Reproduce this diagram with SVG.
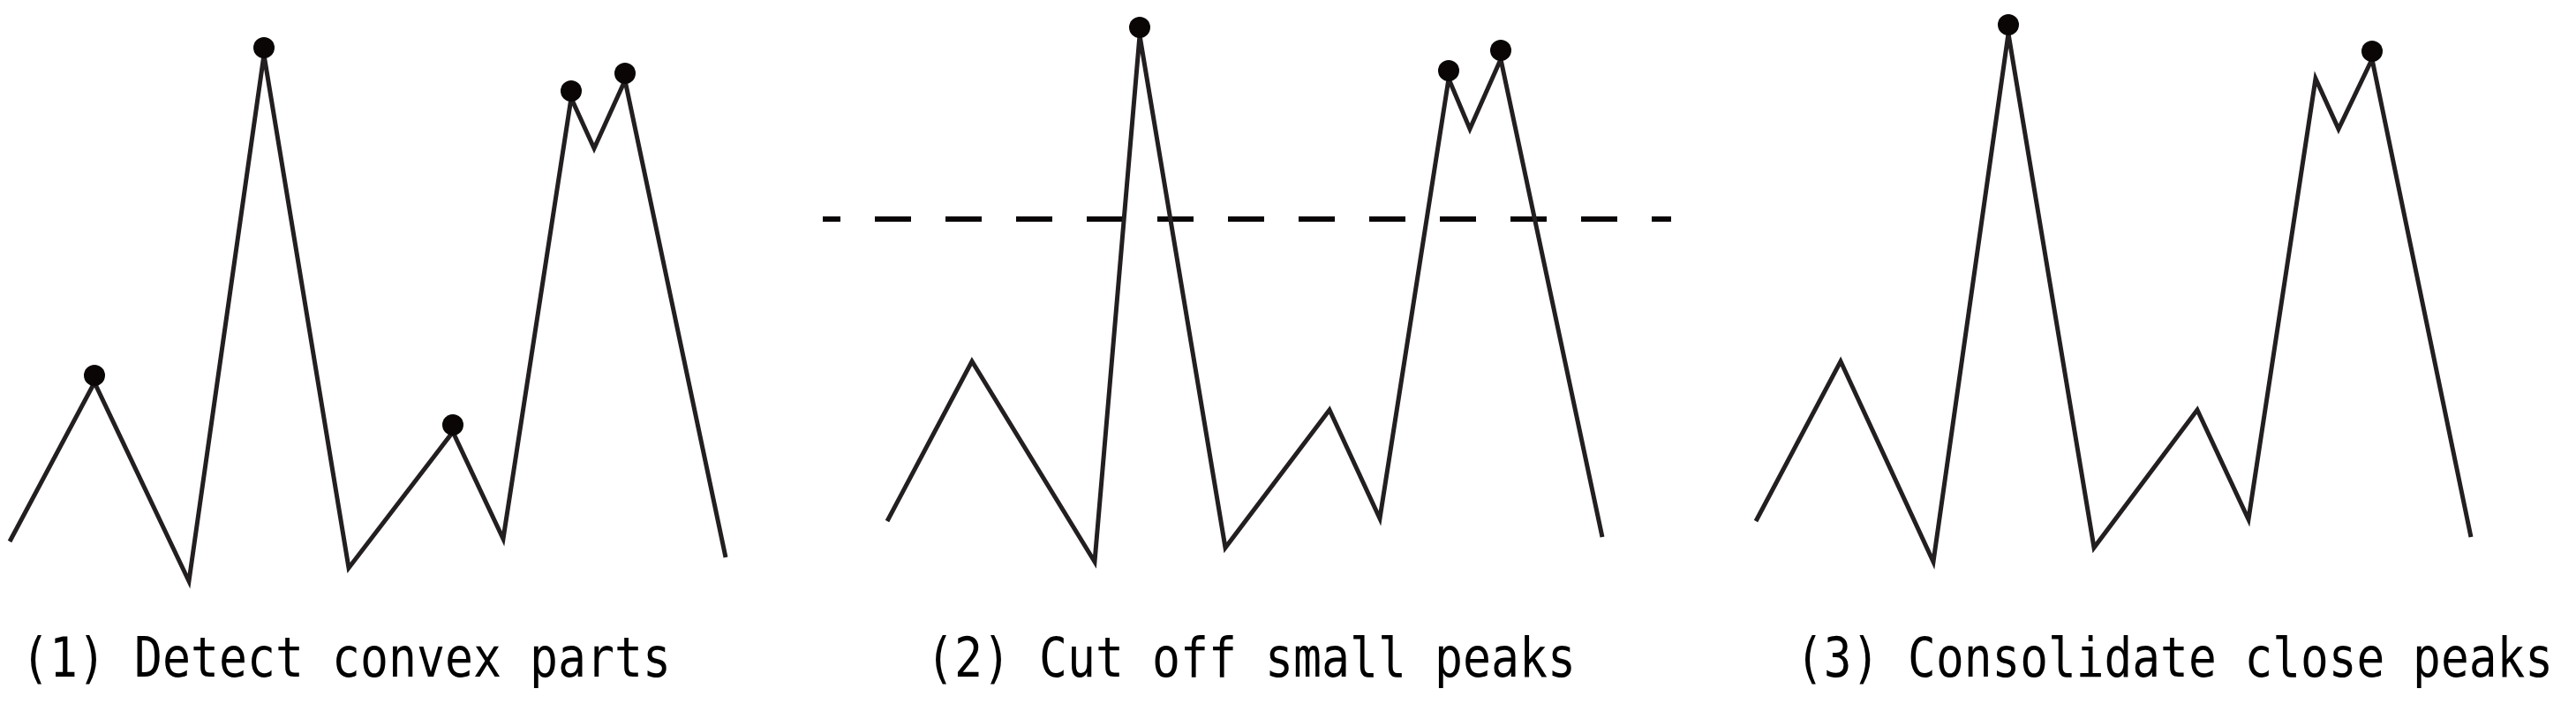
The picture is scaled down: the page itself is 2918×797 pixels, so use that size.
<svg xmlns="http://www.w3.org/2000/svg" width="2918" height="797" viewBox="0 0 2918 797">
<style>
.wave{fill:none;stroke:#231f20;stroke-width:5;stroke-linejoin:miter;stroke-miterlimit:20}
.dot{fill:#0a0606}
.cut{stroke:#0a0606;stroke-width:6;stroke-dasharray:41 39;stroke-dashoffset:21}
.lbl{font-family:"DejaVu Sans Mono","Liberation Mono",monospace;font-size:63px;fill:#000}
</style>
<rect width="2918" height="797" fill="#fff"/>
<g id="panel1">
<polyline class="wave" points="11,613 107,433 214,658 299,62 395,643 513,489 570,610 647,111 673,168 708,91 822,631"/>
<circle class="dot" cx="107" cy="425" r="12"/>
<circle class="dot" cx="299" cy="54" r="12"/>
<circle class="dot" cx="513" cy="481" r="12"/>
<circle class="dot" cx="647" cy="103" r="12"/>
<circle class="dot" cx="708" cy="83" r="12"/>
<text class="lbl" transform="translate(24,766) scale(0.844,1)">(1) Detect convex parts</text>
</g>
<g id="panel2">
<line class="cut" x1="932" y1="248" x2="1893" y2="248"/>
<polyline class="wave" points="1005,590 1101,409 1240,636 1291,40 1388,620 1506,464 1563,587 1641,89 1665,146 1700,67 1815,608"/>
<circle class="dot" cx="1291" cy="31" r="12"/>
<circle class="dot" cx="1641" cy="80" r="12"/>
<circle class="dot" cx="1700" cy="57" r="12"/>
<text class="lbl" transform="translate(1049,766) scale(0.844,1)">(2) Cut off small peaks</text>
</g>
<g id="panel3">
<polyline class="wave" points="1989,590 2085,409 2190,636 2275,38 2372,620 2489,464 2547,588 2623,89 2649,146 2687,67 2799,608"/>
<circle class="dot" cx="2275" cy="28" r="12"/>
<circle class="dot" cx="2687" cy="58" r="12"/>
<text class="lbl" transform="translate(2034,766) scale(0.838,1)">(3) Consolidate close peaks</text>
</g>
<g id="connectors"/>
</svg>
